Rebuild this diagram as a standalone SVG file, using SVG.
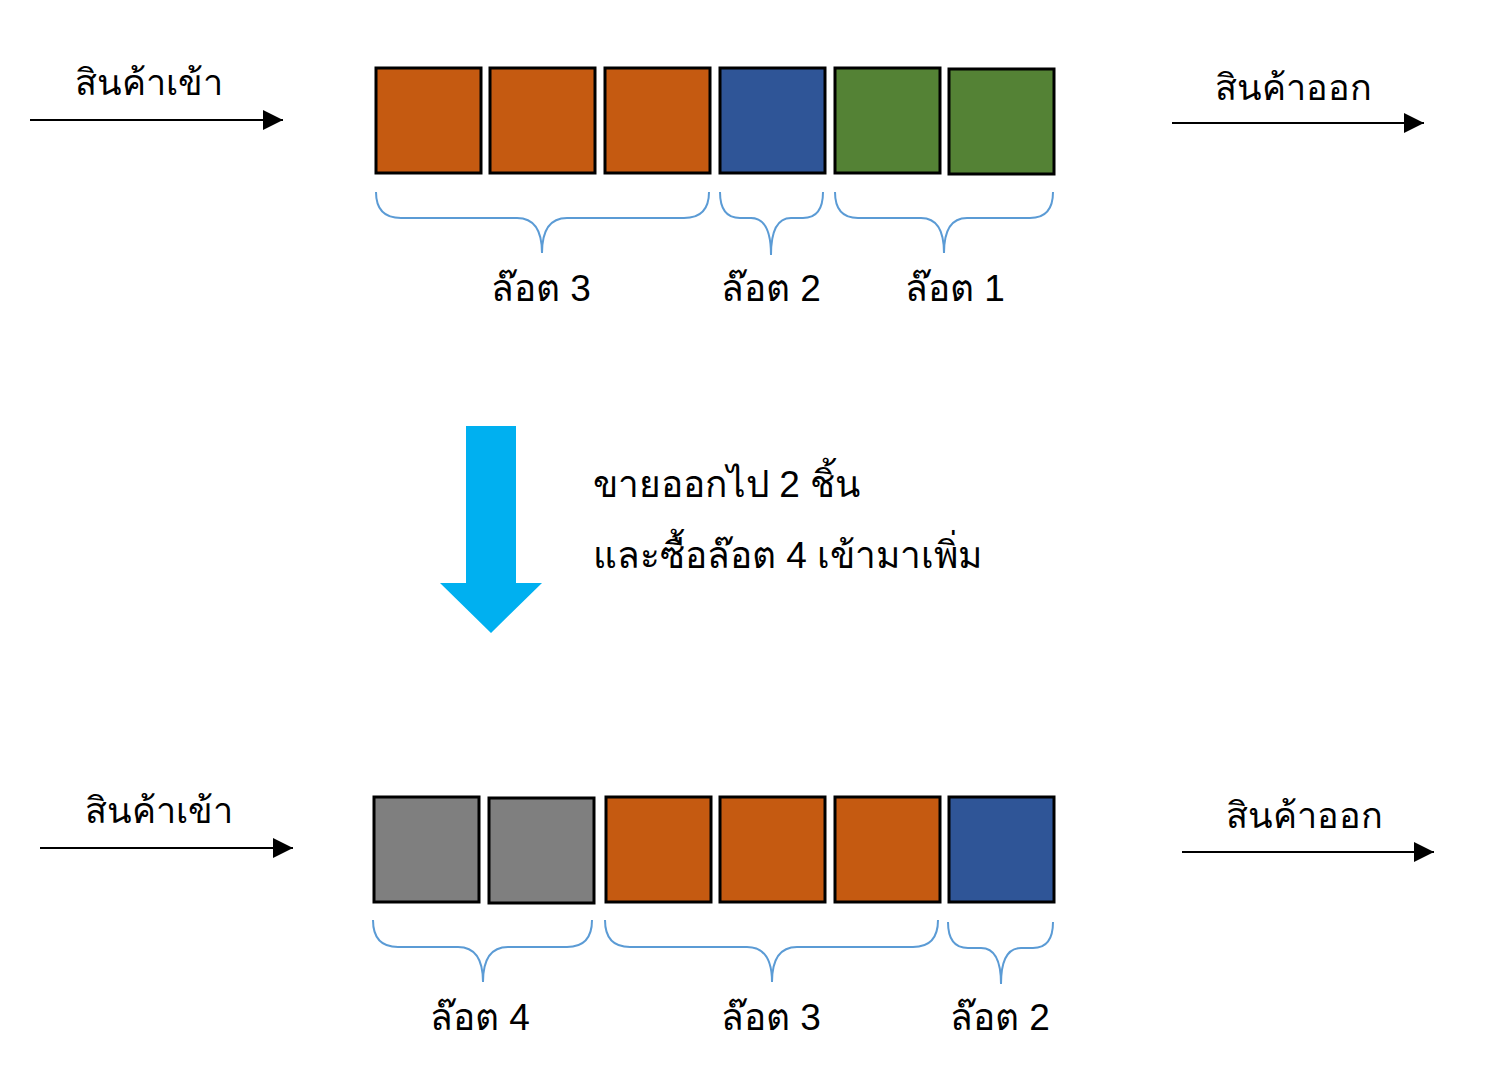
<svg xmlns="http://www.w3.org/2000/svg" width="1501" height="1080" viewBox="0 0 1501 1080">
<defs>
<style>
.t{font-family:"Liberation Sans","Noto Sans",sans-serif;font-size:37px;fill:#000}
.s{font-size:36px}
.lbl{text-anchor:middle}
.box{stroke:#000;stroke-width:3}
.o{fill:#C55A11}.b{fill:#2F5597}.g{fill:#548235}.gr{fill:#7F7F7F}
.br{fill:none;stroke:#5B9BD5;stroke-width:2}
.ln{stroke:#000;stroke-width:2;fill:none}
</style>
<marker id="ah2" viewBox="0 0 20 20" refX="20" refY="10" markerWidth="20" markerHeight="20" markerUnits="userSpaceOnUse" orient="auto">
<path d="M0,0 L20,10 L0,20 z" fill="#000"/>
</marker>
</defs>
<rect width="1501" height="1080" fill="#fff"/>

<g id="connectors">
<line class="ln" x1="30" y1="120" x2="283" y2="120" marker-end="url(#ah2)"/>
<line class="ln" x1="1172" y1="123" x2="1424" y2="123" marker-end="url(#ah2)"/>
<line class="ln" x1="40" y1="848" x2="293" y2="848" marker-end="url(#ah2)"/>
<line class="ln" x1="1182" y1="852" x2="1434" y2="852" marker-end="url(#ah2)"/>
</g>

<g id="in-top"><text class="t s" x="75" y="95">สินค้าเข้า</text></g>
<g id="out-top"><text class="t s" x="1215" y="100">สินค้าออก</text></g>
<g id="in-bottom"><text class="t s" x="85" y="823">สินค้าเข้า</text></g>
<g id="out-bottom"><text class="t s" x="1226" y="828">สินค้าออก</text></g>

<g id="top-row">
<rect class="box o" x="376" y="68" width="105" height="105"/>
<rect class="box o" x="490" y="68" width="105" height="105"/>
<rect class="box o" x="605" y="68" width="105" height="105"/>
<rect class="box b" x="720" y="68" width="105" height="105"/>
<rect class="box g" x="835" y="68" width="105" height="105"/>
<rect class="box g" x="949" y="69" width="105" height="105"/>
</g>

<g id="top-braces">
<path class="br" d="M376,192 Q376,218 401,218 L517,218 Q542,218 542,253 M709,192 Q709,218 684,218 L567,218 Q542,218 542,253"/>
<path class="br" d="M720,192 Q720,218 740,218 L751,218 Q771,218 771,255 M823,192 Q823,218 803,218 L791,218 Q771,218 771,255"/>
<path class="br" d="M835,192 Q835,218 858,218 L921,218 Q944,218 944,253 M1053,192 Q1053,218 1030,218 L967,218 Q944,218 944,253"/>
</g>
<g id="top-labels">
<text class="t lbl" x="541" y="301">ล๊อต 3</text>
<text class="t lbl" x="771" y="301">ล๊อต 2</text>
<text class="t lbl" x="955" y="301">ล๊อต 1</text>
</g>

<g id="down-arrow">
<path d="M466,426 L516,426 L516,583 L542,583 L491,633 L440,583 L466,583 z" fill="#00B0F0"/>
</g>
<g id="note">
<text class="t" x="593" y="497">ขายออกไป 2 ชิ้น</text>
<text class="t" x="593" y="568">และซื้อล๊อต 4 เข้ามาเพิ่ม</text>
</g>

<g id="bottom-row">
<rect class="box gr" x="374" y="797" width="105" height="105"/>
<rect class="box gr" x="489" y="798" width="105" height="105"/>
<rect class="box o" x="606" y="797" width="105" height="105"/>
<rect class="box o" x="720" y="797" width="105" height="105"/>
<rect class="box o" x="835" y="797" width="105" height="105"/>
<rect class="box b" x="949" y="797" width="105" height="105"/>
</g>
<g id="bottom-braces">
<path class="br" d="M373,920 Q373,947 398,947 L458,947 Q483,947 483,982 M592,920 Q592,947 567,947 L508,947 Q483,947 483,982"/>
<path class="br" d="M605,920 Q605,947 630,947 L747,947 Q772,947 772,982 M938,920 Q938,947 913,947 L797,947 Q772,947 772,982"/>
<path class="br" d="M948,922 Q948,948 968,948 L981,948 Q1001,948 1001,984 M1053,922 Q1053,948 1033,948 L1021,948 Q1001,948 1001,984"/>
</g>
<g id="bottom-labels">
<text class="t lbl" x="480" y="1030">ล๊อต 4</text>
<text class="t lbl" x="771" y="1030">ล๊อต 3</text>
<text class="t lbl" x="1000" y="1030">ล๊อต 2</text>
</g>
</svg>
